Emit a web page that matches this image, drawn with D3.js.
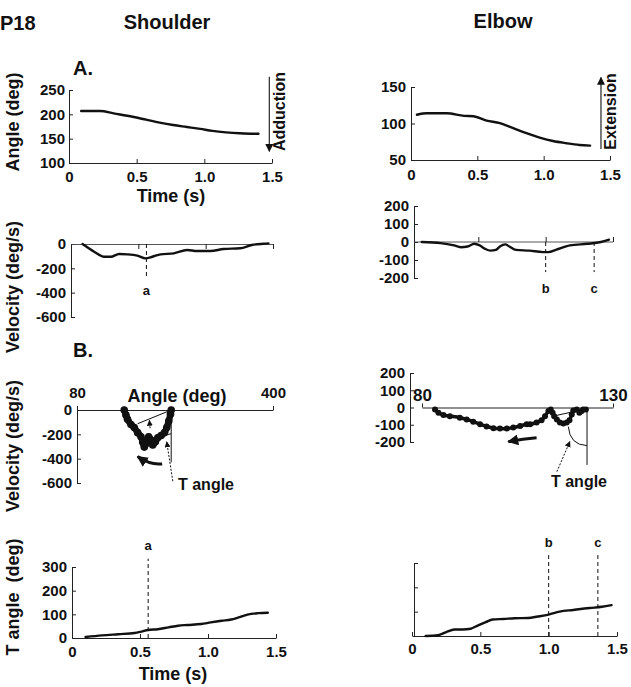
<!DOCTYPE html>
<html><head><meta charset="utf-8">
<script src="https://cdn.jsdelivr.net/npm/d3@7"></script>
<style>
body{margin:0;background:#fff;}
svg{display:block;}
</style></head><body>
<svg id="c" width="631" height="687"></svg>
<script>
// ---------------- DATA ----------------
const timeTicks = [0, 0.5, 1.0, 1.5];
const shoulderAngleTicks = [100, 150, 200, 250];
const elbowAngleTicks = [50, 100, 150];
const shoulderVelTicks = [0, -200, -400, -600];
const elbowVelTicks = [200, 100, 0, -100, -200];
const shoulderPhaseXTicks = [80, 400];
const elbowPhaseXTicks = [80, 130];
const tAngleTicks = [0, 100, 200, 300];

// A. angle vs time
const shoulderAngleT = [0.09,0.23,0.33,0.47,0.57,0.67,0.77,0.87,0.97,1.06,1.16,1.26,1.36,1.40];
const shoulderAngleV = [207,207,202,195,189,183,178,174,170,166,163,161,160,160];
const elbowAngleT = [0.045,0.12,0.27,0.40,0.47,0.57,0.67,0.77,0.87,0.97,1.07,1.17,1.27,1.35];
const elbowAngleV = [112,114,114,110.5,110,104,100.5,93.6,86.7,80.7,76,73,70.6,69.7];

// velocity vs time
const shoulderVelT = [0.086,0.172,0.246,0.296,0.357,0.419,0.493,0.554,0.604,0.665,0.764,0.862,0.936,1.035,1.133,1.256,1.343,1.429,1.466];
const shoulderVelV = [0,-63,-105,-105,-82,-85,-96,-118,-105,-85,-77,-49,-58,-58,-41,-35,-8,2,5];
const elbowVelT = [0.08,0.22,0.32,0.37,0.42,0.47,0.51,0.55,0.59,0.63,0.66,0.70,0.73,0.78,0.88,0.98,1.02,1.08,1.18,1.31,1.41,1.47];
const elbowVelV = [0,-6,-19,-29,-25,-10,-19,-38,-48,-44,-25,-13,-25,-44,-48,-56,-56,-42,-19,-10,0,13];

// B. phase plots (velocity vs angle)
const shoulderPhaseA = [157.1,159.9,162.5,168.1,173.5,179.0,184.5,187.2,189.9,193.7,197.0,200.9,203.6,208.0,211.8,217.4,222.8,226.5,229.8,232.6,233.8];
const shoulderPhaseV = [0,-42,-76,-119,-144,-186,-220,-263,-305,-271,-220,-246,-288,-260,-229,-209,-186,-144,-91,-34,0];
const elbowPhaseA = [83.4,84.3,85.6,87.3,89.9,91.7,93.4,95.2,96.9,98.7,100.4,102.2,103.9,105.7,107.4,108.3,110.0,111.3,112.2,113.1,113.7,114.2,114.6,115.3,116.1,117.0,117.9,118.6,119.2,119.6,120.5,121.2,121.8,122.2,122.9];
const elbowPhaseV = [-11,-30,-44,-50,-59,-69,-82,-97,-110,-120,-122,-122,-116,-107,-97,-97,-87,-74,-50,-21,-11,-30,-50,-69,-87,-93,-87,-74,-40,-17,-11,-30,-21,-11,-11];

// T angle vs time
const shoulderTAngT = [0.1,0.22,0.34,0.46,0.51,0.56,0.63,0.71,0.78,0.85,0.95,1.02,1.10,1.17,1.22,1.29,1.37,1.44];
const shoulderTAngV = [4,11,16,21,27,34,37,45,52,55,59,66,73,78,86,99,105,107];
const elbowTAngT = [0.1,0.19,0.25,0.31,0.37,0.43,0.48,0.54,0.59,0.67,0.75,0.85,0.92,1.0,1.08,1.18,1.30,1.39,1.46];
const elbowTAngV = [0,3,16,27,27,30,43,57,68,70,73,74,80,88,100,107,115,120,127];

// event markers
const shoulderEvents = [{t:0.56, label:"a"}];
const elbowEvents = [{t:1.0, label:"b"}, {t:1.36, label:"c"}];

// ---------------- DRAW ----------------
const FONT = '"Liberation Sans", Arial, Helvetica, sans-serif';
const INK = "#111";
const svg = d3.select("#c");
const fmtT = d => d === 0 ? "0" : d.toFixed(1);
const fmtI = d => String(d);

const defs = svg.append("defs");
function mk(id, size) {
  defs.append("marker").attr("id", id).attr("viewBox", "0 0 10 10")
    .attr("refX", 9).attr("refY", 5).attr("markerWidth", size).attr("markerHeight", size)
    .attr("markerUnits", "userSpaceOnUse").attr("orient", "auto")
    .append("path").attr("d", "M0,0 L10,5 L0,10 z").attr("fill", INK);
}
mk("ah", 8); mk("ahs", 6); mk("ahb", 11);

function styleAxis(g, fs) {
  g.selectAll("path.domain").attr("stroke", "#222").attr("stroke-width", 1);
  g.selectAll(".tick line").attr("stroke", "#222").attr("stroke-width", 1);
  g.selectAll("text").attr("font-size", fs || 15).attr("font-weight", "bold")
    .attr("font-family", FONT).attr("fill", INK);
}
function text(x, y, s, o) {
  o = o || {};
  const t = svg.append("text").attr("x", x).attr("y", y).text(s)
    .attr("font-family", FONT).attr("font-weight", o.weight || "bold")
    .attr("font-size", o.size || 15).attr("fill", INK)
    .attr("text-anchor", o.anchor || "start");
  if (o.rot) t.attr("transform", `rotate(-90,${x},${y})`);
  t.style("white-space", "pre");
  return t;
}
function zip(a, b) { return a.map((v, i) => [v, b[i]]); }
function curve(xs, ys, xScale, yScale, w, c) {
  svg.append("path").datum(zip(xs, ys))
    .attr("d", d3.line().x(d => xScale(d[0])).y(d => yScale(d[1])).curve(c || d3.curveMonotoneX))
    .attr("fill", "none").attr("stroke", INK).attr("stroke-width", w || 2.4)
    .attr("stroke-linejoin", "round").attr("stroke-linecap", "round");
}
function dashed(x, yA, yB) {
  svg.append("line").attr("x1", x).attr("x2", x).attr("y1", yA).attr("y2", yB)
    .attr("stroke", INK).attr("stroke-width", 1).attr("stroke-dasharray", "4,3");
}

// Titles
text(0, 30, "P18", {size: 20});
text(167, 29, "Shoulder", {size: 20, anchor: "middle"});
text(503, 28, "Elbow", {size: 20, anchor: "middle"});
text(73, 75, "A.", {size: 20});
text(73, 357, "B.", {size: 20});

// Y titles
text(19, 122, "Angle (deg)", {size: 18, anchor: "middle", rot: true});
text(19, 287, "Velocity (deg/s)", {size: 18, anchor: "middle", rot: true});
text(19, 446, "Velocity (deg/s)", {size: 18, anchor: "middle", rot: true});
text(19, 597, "T angle  (deg)", {size: 18, anchor: "middle", rot: true});
text(171, 202, "Time (s)", {size: 18, anchor: "middle"});
text(173, 680, "Time (s)", {size: 18, anchor: "middle"});

// ---- Panel 1: shoulder angle ----
{
  const x = d3.scaleLinear().domain([0, 1.5]).range([69, 272]);
  const y = d3.scaleLinear().domain([100, 250]).range([163, 90]);
  styleAxis(svg.append("g").attr("transform", `translate(0,${y(100)})`)
    .call(d3.axisBottom(x).tickValues(timeTicks).tickFormat(fmtT).tickSize(-4).tickSizeOuter(0).tickPadding(8)));
  styleAxis(svg.append("g").attr("transform", `translate(${x(0)},0)`)
    .call(d3.axisLeft(y).tickValues(shoulderAngleTicks).tickFormat(fmtI).tickSize(-4).tickSizeOuter(0).tickPadding(4)));
  curve(shoulderAngleT, shoulderAngleV, x, y, 2.4);
  svg.append("line").attr("x1", x(1.48)).attr("x2", x(1.48)).attr("y1", y(277)).attr("y2", y(124))
    .attr("stroke", INK).attr("stroke-width", 1.1).attr("marker-end", "url(#ah)");
  text(285, 111.5, "Adduction", {size: 16, anchor: "middle", rot: true});
}

// ---- Panel 2: elbow angle ----
{
  const x = d3.scaleLinear().domain([0, 1.5]).range([411, 610]);
  const y = d3.scaleLinear().domain([50, 150]).range([160, 87]);
  styleAxis(svg.append("g").attr("transform", `translate(0,${y(50)})`)
    .call(d3.axisBottom(x).tickValues(timeTicks).tickFormat(fmtT).tickSize(-4).tickSizeOuter(0).tickPadding(9)));
  styleAxis(svg.append("g").attr("transform", `translate(${x(0)},0)`)
    .call(d3.axisLeft(y).tickValues(elbowAngleTicks).tickFormat(fmtI).tickSize(-4).tickSizeOuter(0).tickPadding(5)));
  curve(elbowAngleT, elbowAngleV, x, y, 2.4);
  svg.append("line").attr("x1", x(1.432)).attr("x2", x(1.432)).attr("y1", y(65)).attr("y2", y(163))
    .attr("stroke", INK).attr("stroke-width", 1.1).attr("marker-end", "url(#ah)");
  text(616, 111.5, "Extension", {size: 16, anchor: "middle", rot: true});
}

// ---- Panel 3: shoulder velocity ----
{
  const x = d3.scaleLinear().domain([0, 1.5]).range([71, 273]);
  const y = d3.scaleLinear().domain([-600, 0]).range([317, 244]);
  styleAxis(svg.append("g").attr("transform", `translate(${x(0)},0)`)
    .call(d3.axisLeft(y).tickValues(shoulderVelTicks).tickFormat(fmtI).tickSize(-4).tickSizeOuter(0).tickPadding(5)));
  const gx = svg.append("g").attr("transform", `translate(0,${y(0)})`)
    .call(d3.axisBottom(x).tickValues([0.5, 1.0, 1.5]).tickFormat("").tickSize(5).tickSizeOuter(0));
  styleAxis(gx);
  gx.select("path.domain").attr("stroke", "#444").attr("stroke-width", 0.9);
  curve(shoulderVelT, shoulderVelV, x, y, 2.4);
  shoulderEvents.forEach(e => {
    dashed(x(e.t), y(0), y(-280));
    text(x(e.t), 295, e.label, {size: 13, anchor: "middle"});
  });
}

// ---- Panel 4: elbow velocity ----
{
  const x = d3.scaleLinear().domain([0, 1.5]).range([411, 613]);
  const y = d3.scaleLinear().domain([-200, 200]).range([278, 206]);
  styleAxis(svg.append("g").attr("transform", `translate(414,0)`)
    .call(d3.axisLeft(y).tickValues(elbowVelTicks).tickFormat(fmtI).tickSize(-4).tickSizeOuter(0).tickPadding(5)));
  const gx = svg.append("g").attr("transform", `translate(0,${y(0)})`)
    .call(d3.axisTop(x).tickValues([0.5, 1.0, 1.5]).tickFormat("").tickSize(5).tickSizeOuter(0));
  styleAxis(gx);
  gx.select("path.domain").attr("stroke", "#444").attr("stroke-width", 0.9)
    .attr("d", `M414,0H${x(1.5)}`);
  curve(elbowVelT, elbowVelV, x, y, 2.4);
  elbowEvents.forEach(e => {
    dashed(x(e.t), y(0), y(-167));
    text(x(e.t), 293, e.label, {size: 13, anchor: "middle"});
  });
}

// ---- Panel 5: shoulder phase ----
{
  const x = d3.scaleLinear().domain([80, 400]).range([77, 273]);
  const y = d3.scaleLinear().domain([-600, 0]).range([483, 410]);
  styleAxis(svg.append("g").attr("transform", `translate(0,${y(0)})`)
    .call(d3.axisTop(x).tickValues(shoulderPhaseXTicks).tickFormat(fmtI).tickSize(4).tickSizeOuter(0).tickPadding(8)));
  styleAxis(svg.append("g").attr("transform", `translate(${x(80)},0)`)
    .call(d3.axisLeft(y).tickValues(shoulderVelTicks).tickFormat(fmtI).tickSize(-4).tickSizeOuter(0).tickPadding(5)));
  text(177, 402, "Angle (deg)", {size: 18, anchor: "middle"});
  curve(shoulderPhaseA, shoulderPhaseV, x, y, 6.5, d3.curveCatmullRom);
  svg.append("g").selectAll("circle").data(zip(shoulderPhaseA, shoulderPhaseV)).join("circle")
    .attr("cx", d => x(d[0])).attr("cy", d => y(d[1])).attr("r", 3.8).attr("fill", INK);
  const ln = (a1, v1, a2, v2, w, extra) => {
    const l = svg.append("line").attr("x1", x(a1)).attr("y1", y(v1)).attr("x2", x(a2)).attr("y2", y(v2))
      .attr("stroke", INK).attr("stroke-width", w || 1);
    if (extra) extra(l);
    return l;
  };
  ln(178.9, -113, 233.8, 0, 1);
  ln(214.6, -218, 233.8, -195, 1);
  ln(233.8, 0, 233.8, -430, 1);
  ln(199.3, -150, 198.2, -85, 1, l => l.attr("stroke-dasharray", "2,1.5").attr("marker-end", "url(#ahs)"));
  ln(236.4, -585, 226.5, -262, 1, l => l.attr("stroke-dasharray", "2,1.5").attr("marker-end", "url(#ahs)"));
  svg.append("path")
    .attr("d", `M${x(219)},${y(-443)} Q${x(200)},${y(-455)} ${x(179)},${y(-383)}`)
    .attr("fill", "none").attr("stroke", INK).attr("stroke-width", 3).attr("marker-end", "url(#ahb)");
  text(178, 490, "T angle", {size: 16});
}

// ---- Panel 6: elbow phase ----
{
  const x = d3.scaleLinear().domain([80, 130]).range([422, 613]);
  const y = d3.scaleLinear().domain([-200, 200]).range([442, 373]);
  styleAxis(svg.append("g").attr("transform", `translate(0,${y(0)})`)
    .call(d3.axisTop(x).tickValues(elbowPhaseXTicks).tickFormat(fmtI).tickSize(4).tickSizeOuter(0).tickPadding(3)), 17);
  styleAxis(svg.append("g").attr("transform", `translate(410,0)`)
    .call(d3.axisLeft(y).tickValues(elbowVelTicks).tickFormat(fmtI).tickSize(-4).tickSizeOuter(0).tickPadding(5)));
  curve(elbowPhaseA, elbowPhaseV, x, y, 3.5, d3.curveCatmullRom);
  svg.append("g").selectAll("circle").data(zip(elbowPhaseA, elbowPhaseV)).join("circle")
    .attr("cx", d => x(d[0])).attr("cy", d => y(d[1])).attr("r", 3).attr("fill", INK);
  const ln = (a1, v1, a2, v2, extra) => {
    const l = svg.append("line").attr("x1", x(a1)).attr("y1", y(v1)).attr("x2", x(a2)).attr("y2", y(v2))
      .attr("stroke", INK).attr("stroke-width", 1);
    if (extra) extra(l);
    return l;
  };
  ln(114.8, -48, 120.5, -20);
  ln(123.2, 0, 123.2, -333);
  ln(115.3, -372, 118.7, -198, l => l.attr("stroke-dasharray", "2,1.5").attr("marker-end", "url(#ahs)"));
  svg.append("path")
    .attr("d", `M${x(118.3)},${y(-111)} Q${x(118.7)},${y(-217)} ${x(123.2)},${y(-221)}`)
    .attr("fill", "none").attr("stroke", INK).attr("stroke-width", 1);
  svg.append("path")
    .attr("d", `M${x(110.0)},${y(-175)} Q${x(106.5)},${y(-182)} ${x(102.6)},${y(-198)}`)
    .attr("fill", "none").attr("stroke", INK).attr("stroke-width", 3).attr("marker-end", "url(#ahb)");
  text(579, 487, "T angle", {size: 16, anchor: "middle"});
}

// ---- Panel 7: shoulder T angle ----
{
  const x = d3.scaleLinear().domain([0, 1.5]).range([72, 276]);
  const y = d3.scaleLinear().domain([0, 300]).range([638, 567]);
  styleAxis(svg.append("g").attr("transform", `translate(0,${y(0)})`)
    .call(d3.axisBottom(x).tickValues(timeTicks).tickFormat(fmtT).tickSize(-4).tickSizeOuter(0).tickPadding(8)));
  styleAxis(svg.append("g").attr("transform", `translate(${x(0)},0)`)
    .call(d3.axisLeft(y).tickValues(tAngleTicks).tickFormat(fmtI).tickSize(-4).tickSizeOuter(0).tickPadding(5)));
  curve(shoulderTAngT, shoulderTAngV, x, y, 2.4);
  shoulderEvents.forEach(e => {
    dashed(x(e.t), y(0), y(335));
    text(x(e.t), 550, e.label, {size: 13, anchor: "middle"});
  });
}

// ---- Panel 8: elbow T angle ----
{
  const x = d3.scaleLinear().domain([0, 1.5]).range([412, 617]);
  const y = d3.scaleLinear().domain([0, 300]).range([636, 563]);
  styleAxis(svg.append("g").attr("transform", `translate(0,${y(0)})`)
    .call(d3.axisBottom(x).tickValues(timeTicks).tickFormat(fmtT).tickSize(-4).tickSizeOuter(0).tickPadding(7)));
  styleAxis(svg.append("g").attr("transform", `translate(414,0)`)
    .call(d3.axisLeft(y).tickValues(tAngleTicks).tickFormat("").tickSize(-4).tickSizeOuter(0)));
  curve(elbowTAngT, elbowTAngV, x, y, 2.4);
  elbowEvents.forEach(e => {
    dashed(x(e.t), y(0), y(340));
    text(x(e.t), 547, e.label, {size: 13, anchor: "middle"});
  });
}
</script>
</body></html>
